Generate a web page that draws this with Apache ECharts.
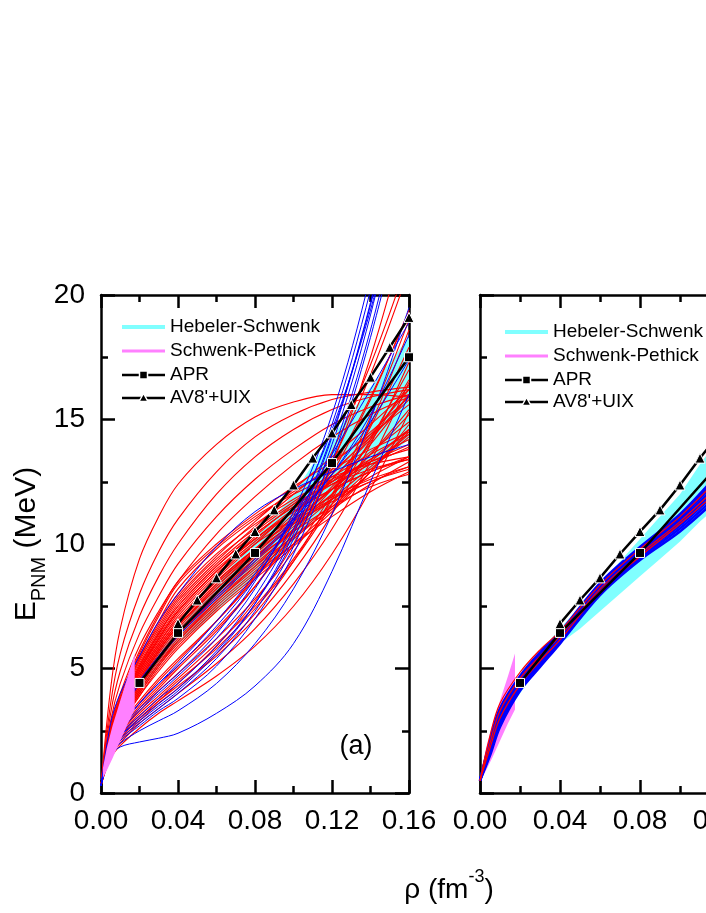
<!DOCTYPE html>
<html>
<head>
<meta charset="utf-8">
<script src="https://cdn.jsdelivr.net/npm/echarts@6/dist/echarts.min.js"></script>
<style>
    html, body { margin: 0; padding: 0; background: #fff; }
    #chart { width: 706px; height: 913px; }
</style>
</head>
<body>
<div id="chart"></div>
<script>
    // density grid shared by the model curves (fm^-3)
    var rhoGrid = [0, 0.005, 0.01, 0.02, 0.03, 0.04, 0.06, 0.08, 0.10, 0.12, 0.14, 0.16];
    var xRange = [0, 0.16], xStep = 0.04;
    var yRange = [0, 20], yStep = 5;

    // panel (a): red models, E_PNM at rhoGrid
    var leftRed = [
        [0.3, 4.2, 6.6, 9.4, 11.1, 12.4, 14.0, 15.1, 15.7, 16.0, 16.0, 15.9],
        [0.3, 3.6, 5.6, 8.0, 9.7, 11.0, 12.9, 14.3, 15.2, 15.8, 16.1, 16.3],
        [0.3, 3.2, 4.9, 7.1, 8.7, 10.0, 12.0, 13.5, 14.6, 15.4, 15.9, 16.2],
        [0.3, 2.9, 4.4, 6.4, 7.9, 9.2, 11.1, 12.6, 13.8, 14.8, 15.5, 16.0],
        [0.3, 2.7, 4.0, 5.9, 7.3, 8.5, 10.4, 11.9, 13.2, 14.3, 15.2, 15.9],
        [0.3, 2.6, 3.8, 5.6, 7.1, 8.4, 9.9, 11.1, 12.0, 12.7, 13.2, 13.5],
        [0.3, 2.5, 3.7, 5.4, 6.8, 8.0, 9.6, 10.8, 11.8, 12.6, 13.3, 13.8],
        [0.3, 2.5, 3.6, 5.3, 6.6, 7.8, 9.4, 10.6, 11.7, 12.7, 13.6, 14.4],
        [0.3, 2.4, 3.5, 5.1, 6.4, 7.5, 9.1, 10.4, 11.5, 12.5, 13.3, 14.0],
        [0.3, 2.4, 3.4, 5.0, 6.3, 7.4, 9.0, 10.2, 11.3, 12.2, 12.9, 13.4],
        [0.3, 2.3, 3.4, 4.9, 6.1, 7.2, 8.8, 10.1, 11.3, 12.5, 13.7, 14.9],
        [0.3, 2.3, 3.3, 4.8, 6.0, 7.1, 8.7, 10.0, 11.0, 11.9, 12.6, 13.1],
        [0.3, 2.2, 3.2, 4.7, 5.9, 6.9, 8.5, 9.8, 11.0, 12.2, 13.4, 14.6],
        [0.3, 2.2, 3.2, 4.6, 5.8, 6.8, 8.4, 9.7, 10.8, 11.7, 12.5, 13.0],
        [0.3, 2.1, 3.1, 4.5, 5.7, 6.7, 8.3, 9.6, 10.9, 12.2, 13.6, 15.2],
        [0.3, 2.1, 3.0, 4.4, 5.5, 6.5, 8.1, 9.4, 10.5, 11.5, 12.3, 12.8],
        [0.3, 2.0, 3.0, 4.3, 5.4, 6.4, 7.9, 9.2, 10.5, 11.8, 13.1, 14.4],
        [0.3, 2.0, 2.9, 4.2, 5.3, 6.3, 7.8, 9.1, 10.3, 11.4, 12.4, 13.3],
        [0.3, 1.9, 2.8, 4.1, 5.2, 6.1, 7.6, 8.9, 10.2, 11.5, 12.9, 14.5],
        [0.3, 1.9, 2.8, 4.0, 5.1, 6.0, 7.5, 8.8, 10.0, 11.1, 12.1, 12.9],
        [0.3, 1.8, 2.7, 3.9, 4.9, 5.8, 7.3, 8.6, 9.9, 11.3, 12.9, 14.8],
        [0.3, 2.6, 3.9, 5.7, 7.2, 8.5, 10.0, 11.2, 12.3, 13.3, 14.4, 15.6],
        [0.3, 2.5, 3.6, 5.2, 6.5, 7.7, 9.3, 10.7, 12.0, 13.2, 14.5, 15.9],
        [0.3, 2.3, 3.4, 5.0, 6.2, 7.3, 8.9, 10.3, 11.6, 12.9, 14.3, 15.8],
        [0.3, 2.2, 3.3, 4.8, 6.0, 7.0, 8.6, 10.0, 11.4, 12.8, 14.4, 16.2],
        [0.3, 2.1, 3.1, 4.6, 5.8, 6.8, 8.4, 9.8, 11.2, 12.6, 14.2, 16.0],
        [0.3, 2.0, 3.0, 4.4, 5.6, 6.6, 8.2, 9.5, 10.7, 11.8, 12.7, 13.5],
        [0.3, 1.9, 2.9, 4.2, 5.4, 6.4, 8.0, 9.4, 10.8, 12.3, 14.0, 16.0],
        [0.3, 1.8, 2.7, 4.0, 5.1, 6.1, 7.7, 9.1, 10.6, 12.2, 14.1, 16.6],
        [0.3, 2.4, 3.5, 5.1, 6.4, 7.6, 9.2, 10.5, 11.6, 12.4, 13.0, 13.4],
        [0.3, 2.2, 3.3, 4.9, 6.2, 7.3, 8.9, 10.2, 11.4, 12.4, 13.2, 13.9],
        [0.3, 2.0, 3.0, 4.5, 5.7, 6.7, 8.3, 9.7, 11.1, 12.6, 14.3, 16.4],
        [0.3, 2.6, 3.8, 5.5, 6.9, 8.2, 9.8, 11.0, 12.1, 13.0, 13.8, 14.5],
        [0.3, 2.5, 3.7, 5.4, 6.7, 7.9, 9.5, 10.9, 12.2, 13.5, 14.8, 16.2],
        [0.3, 2.3, 3.4, 4.9, 6.2, 7.3, 8.9, 10.2, 11.3, 12.2, 12.9, 13.5],
        [0.3, 2.1, 3.1, 4.5, 5.7, 6.7, 8.2, 9.5, 10.8, 12.0, 13.3, 14.6],
        [0.3, 1.9, 2.8, 4.1, 5.2, 6.2, 7.7, 9.0, 10.3, 11.6, 13.0, 14.3],
        [0.3, 2.4, 3.5, 5.1, 6.4, 7.5, 9.1, 10.4, 11.5, 12.5, 13.4, 14.2],
        [0.3, 2.2, 3.2, 4.7, 5.9, 6.9, 8.5, 9.8, 10.9, 11.8, 12.5, 13.1],
        [0.3, 2.0, 2.9, 4.3, 5.4, 6.3, 7.9, 9.3, 10.6, 12.0, 13.6, 15.4],
        [0.3, 1.8, 2.7, 3.9, 5.0, 5.9, 7.4, 8.7, 10.0, 11.4, 12.9, 14.6],
        [0.3, 1.6, 2.2, 3.0, 3.7, 4.3, 5.5, 7.0, 8.9, 11.2, 14.0, 17.3],
        [0.3, 1.5, 2.0, 2.8, 3.4, 4.0, 5.2, 6.6, 8.4, 10.6, 13.3, 16.5],
        [0.3, 1.7, 2.4, 3.3, 4.1, 4.8, 6.2, 7.8, 9.7, 12.0, 14.7, 17.9],
        [0.3, 1.4, 1.9, 2.6, 3.2, 3.7, 4.7, 5.9, 7.5, 9.6, 12.2, 15.3],
        [0.3, 1.6, 2.3, 3.2, 3.9, 4.6, 6.0, 7.5, 9.4, 11.8, 14.8, 18.6],
        [0.3, 1.8, 2.5, 3.5, 4.3, 5.1, 6.6, 8.3, 10.3, 12.8, 15.8, 19.4],
        [0.3, 1.5, 2.1, 2.9, 3.6, 4.2, 5.6, 7.2, 9.3, 11.9, 15.1, 19.0],
        [0.3, 1.7, 2.3, 3.1, 3.8, 4.5, 5.8, 7.4, 9.3, 11.6, 14.2, 17.0],
        [0.3, 1.9, 2.7, 3.7, 4.6, 5.4, 6.9, 8.6, 10.6, 13.0, 15.9, 19.3],
        [0.3, 1.8, 2.6, 3.6, 4.5, 5.3, 6.9, 8.7, 10.9, 13.7, 17.2, 21.5],
        [0.3, 1.7, 2.4, 3.4, 4.2, 5.0, 6.5, 8.3, 10.5, 13.3, 16.8, 21.0],
        [0.3, 1.6, 2.2, 3.0, 3.7, 4.4, 5.9, 7.7, 10.0, 13.2, 17.5, 23.0]
    ];

    // panel (a): blue models
    var leftBlue = [
        [0.3, 1.5, 1.85, 2.05, 2.2, 2.4, 3.2, 4.3, 6.0, 8.9, 12.5, 16.0],
        [0.3, 1.7, 2.2, 2.8, 3.4, 4.0, 5.4, 7.3, 9.9, 13.6, 18.6, 25.0],
        [0.3, 1.8, 2.3, 3.0, 3.6, 4.2, 5.7, 7.6, 10.2, 14.0, 19.2, 26.0],
        [0.3, 1.8, 2.4, 3.1, 3.8, 4.4, 5.9, 7.9, 10.6, 14.4, 19.7, 26.5],
        [0.3, 1.9, 2.5, 3.3, 4.0, 4.7, 6.2, 8.2, 10.9, 14.8, 20.2, 27.0],
        [0.3, 1.9, 2.6, 3.4, 4.1, 4.8, 6.4, 8.5, 11.3, 15.2, 20.8, 28.0],
        [0.3, 1.7, 2.3, 2.9, 3.5, 4.1, 5.6, 7.6, 10.4, 14.3, 19.6, 26.0],
        [0.3, 1.6, 2.1, 2.7, 3.3, 3.8, 5.1, 7.0, 9.6, 13.3, 18.3, 24.5],
        [0.3, 2.0, 2.7, 3.6, 4.4, 5.1, 6.7, 8.6, 11.1, 14.6, 19.4, 25.5],
        [0.3, 2.8, 4.0, 5.5, 6.9, 8.0, 9.9, 11.3, 12.2, 12.9, 13.5, 14.0],
        [0.3, 2.2, 3.2, 4.5, 5.5, 6.4, 7.9, 9.4, 11.0, 12.8, 14.9, 17.4],
        [0.3, 2.1, 3.1, 4.4, 5.4, 6.3, 7.8, 9.3, 10.9, 12.8, 15.2, 18.4],
        [0.3, 1.9, 2.6, 3.6, 4.4, 5.2, 6.9, 8.8, 11.0, 13.6, 16.2, 18.9],
        [0.3, 1.6, 2.0, 2.5, 2.9, 3.3, 4.4, 6.0, 8.2, 11.2, 15.0, 19.5]
    ];

    // panel (b): blue and red models
    var rightBlue = [
        [0.5, 1.5, 2.65, 4.1, 5.06, 6.0, 7.95, 9.36, 10.5, 11.9, 13.3, 14.7],
        [0.5, 1.6, 2.78, 4.2, 5.15, 6.07, 8.02, 9.45, 10.62, 12.05, 13.5, 14.95],
        [0.5, 1.7, 2.9, 4.3, 5.25, 6.13, 8.08, 9.53, 10.74, 12.2, 13.7, 15.2],
        [0.5, 1.8, 3.02, 4.38, 5.34, 6.2, 8.15, 9.6, 10.85, 12.35, 13.9, 15.45],
        [0.5, 1.88, 3.12, 4.46, 5.42, 6.27, 8.22, 9.67, 10.95, 12.5, 14.1, 15.7],
        [0.5, 1.96, 3.22, 4.54, 5.5, 6.33, 8.29, 9.74, 11.05, 12.65, 14.3, 15.95],
        [0.5, 2.03, 3.32, 4.62, 5.58, 6.4, 8.36, 9.81, 11.12, 12.78, 14.45, 16.2],
        [0.5, 2.1, 3.4, 4.7, 5.65, 6.46, 8.43, 9.88, 11.2, 12.9, 14.6, 16.4]
    ];
    var rightRed = [
        [0.5, 2.3, 3.6, 4.85, 5.75, 6.5, 8.35, 9.8, 11.1, 12.7, 14.4, 16.2],
        [0.5, 2.0, 3.3, 4.6, 5.5, 6.3, 8.2, 9.6, 10.9, 12.4, 14.0, 15.7],
        [0.5, 1.8, 3.0, 4.35, 5.3, 6.15, 8.1, 9.5, 10.8, 12.2, 13.7, 15.3]
    ];

    // Hebeler-Schwenk band
    var hsRho  = [0.005, 0.01, 0.02, 0.03, 0.04, 0.05, 0.06, 0.07, 0.08, 0.09, 0.10, 0.11, 0.12, 0.13, 0.14, 0.15, 0.16];
    var hsLow  = [1.9, 2.8, 4.0, 5.1, 6.0, 6.6, 7.3, 8.0, 8.7, 9.4, 10.1, 10.9, 11.6, 12.3, 13.0, 13.6, 14.2];
    var hsHigh = [2.2, 3.2, 4.6, 5.7, 6.6, 7.5, 8.4, 9.3, 10.2, 11.1, 12.0, 13.2, 14.3, 15.3, 16.3, 17.3, 18.3];

    // Schwenk-Pethick band
    var spRho  = [0.001, 0.003, 0.006, 0.01, 0.014, 0.0175];
    var spLow  = [0.6, 0.9, 1.4, 2.1, 2.8, 3.35];
    var spHigh = [1.0, 1.8, 2.7, 3.7, 4.7, 5.6];

    // APR and AV8'+UIX
    var aprRho = [0.02, 0.04, 0.08, 0.12, 0.16];
    var aprE   = [4.42, 6.43, 9.64, 13.25, 17.5];
    var avRho  = [0.04, 0.05, 0.06, 0.07, 0.08, 0.09, 0.10, 0.11, 0.12, 0.13, 0.14, 0.15, 0.16];
    var avE    = [6.8, 7.75, 8.64, 9.6, 10.5, 11.37, 12.37, 13.45, 14.46, 15.6, 16.7, 17.9, 19.1];

    var legendNames = ['Hebeler-Schwenk', 'Schwenk-Pethick', 'APR', "AV8'+UIX"];

    var FONT = 'Liberation Sans, Arial, Helvetica, sans-serif';
    var RED = '#ff0000', BLUE = '#0000ff', CYAN = '#80ffff', PINK = '#ff80ff';

    function pairs(xs, ys) {
        return xs.map(function (x, i) { return [x, ys[i]]; });
    }

    function xAx(grid, pos, labels) {
        return {
            type: 'value', gridIndex: grid, position: pos,
            min: xRange[0], max: xRange[1], interval: xStep,
            axisLine: { show: true, onZero: false, lineStyle: { color: '#000', width: 2.5 } },
            axisTick: { show: true, inside: true, length: 13, lineStyle: { color: '#000', width: 2.5 } },
            minorTick: { show: true, splitNumber: 2, length: 7, lineStyle: { color: '#000', width: 2.5 } },
            splitLine: { show: false },
            axisLabel: {
                show: labels, fontSize: 28, color: '#000', margin: 14, fontFamily: FONT,
                formatter: function (v) { return v.toFixed(2); }
            }
        };
    }

    function yAx(grid, pos, labels) {
        return {
            type: 'value', gridIndex: grid, position: pos,
            min: yRange[0], max: yRange[1], interval: yStep,
            axisLine: { show: true, onZero: false, lineStyle: { color: '#000', width: 2.5 } },
            axisTick: { show: true, inside: true, length: 14, lineStyle: { color: '#000', width: 2.5 } },
            minorTick: { show: true, splitNumber: 2, length: 7, lineStyle: { color: '#000', width: 2.5 } },
            splitLine: { show: false },
            axisLabel: { show: labels, fontSize: 28, color: '#000', margin: 16, fontFamily: FONT }
        };
    }

    function curve(vals, color, width, xi, yi, z) {
        return {
            type: 'line', xAxisIndex: xi, yAxisIndex: yi,
            data: pairs(rhoGrid, vals),
            smooth: 0.35, symbol: 'none',
            lineStyle: { color: color, width: width },
            silent: true, animation: false, z: z
        };
    }

    function band(name, xs, lo, hi, color, xi, yi, z) {
        return {
            type: 'custom', name: name, xAxisIndex: xi, yAxisIndex: yi,
            silent: true, animation: false, z: z,
            data: [[xs[0], lo[0]]],
            renderItem: function (params, api) {
                var pts = [];
                for (var i = 0; i < xs.length; i++) pts.push(api.coord([xs[i], hi[i]]));
                for (var j = xs.length - 1; j >= 0; j--) pts.push(api.coord([xs[j], lo[j]]));
                return { type: 'polygon', shape: { points: pts }, style: { fill: color } };
            }
        };
    }

    function refLine(name, xs, ys, sym, size, xi, yi) {
        return {
            type: 'line', name: name, xAxisIndex: xi, yAxisIndex: yi,
            data: pairs(xs, ys), symbol: sym, symbolSize: size, showSymbol: true,
            lineStyle: { color: '#000', width: 2.5 },
            itemStyle: { color: '#000', borderColor: '#fff', borderWidth: 1 },
            silent: true, animation: false, z: 6
        };
    }

    function legendBlock(x0, ys) {
        var els = [];
        var cx = x0 + 21.5;
        els.push({ type: 'rect', shape: { x: x0, y: ys[0] - 2, width: 43, height: 4 }, style: { fill: CYAN } });
        els.push({ type: 'rect', shape: { x: x0, y: ys[1] - 1.5, width: 43, height: 3 }, style: { fill: PINK } });
        els.push({ type: 'line', shape: { x1: x0, y1: ys[2], x2: x0 + 43, y2: ys[2] }, style: { stroke: '#000', lineWidth: 2.5 } });
        els.push({ type: 'rect', shape: { x: cx - 4, y: ys[2] - 4, width: 8, height: 8 }, style: { fill: '#000', stroke: '#fff', lineWidth: 1.5 } });
        els.push({ type: 'line', shape: { x1: x0, y1: ys[3], x2: x0 + 43, y2: ys[3] }, style: { stroke: '#000', lineWidth: 2.5 } });
        els.push({ type: 'polygon', shape: { points: [[cx - 4.5, ys[3] + 3.5], [cx, ys[3] - 4.5], [cx + 4.5, ys[3] + 3.5]] }, style: { fill: '#000', stroke: '#fff', lineWidth: 1.5 } });
        for (var i = 0; i < legendNames.length; i++) {
            els.push({
                type: 'text', x: x0 + 48, y: ys[i],
                style: { text: legendNames[i], fontSize: 19, fontFamily: FONT, fill: '#000', verticalAlign: 'middle', align: 'left' }
            });
        }
        return els;
    }

    var series = [];
    // panel (a)
    series.push(band('Hebeler-Schwenk', hsRho, hsLow, hsHigh, CYAN, 0, 0, 1));
    leftRed.forEach(function (c) { series.push(curve(c, RED, 1.1, 0, 0, 2)); });
    leftBlue.forEach(function (c) { series.push(curve(c, BLUE, 1, 0, 0, 3)); });
    series.push(band('Schwenk-Pethick', spRho, spLow, spHigh, PINK, 0, 0, 4));
    series.push(refLine('APR', aprRho, aprE, 'rect', 9, 0, 0));
    series.push(refLine("AV8'+UIX", avRho, avE, 'triangle', 10, 0, 0));
    // panel (b)
    series.push(band('Hebeler-Schwenk', hsRho, hsLow, hsHigh, CYAN, 2, 2, 1));
    series.push(band('Schwenk-Pethick', spRho, spLow, spHigh, PINK, 2, 2, 1));
    rightBlue.forEach(function (c) { series.push(curve(c, BLUE, 2.5, 2, 2, 3)); });
    rightRed.forEach(function (c) { series.push(curve(c, RED, 1.2, 2, 2, 4)); });
    series.push(refLine('APR', aprRho, aprE, 'rect', 9, 2, 2));
    series.push(refLine("AV8'+UIX", avRho, avE, 'triangle', 10, 2, 2));

    var yName = yAx(0, 'left', true);
    yName.name = '{a|E}{s|PNM}{a| (MeV)}';
    yName.nameLocation = 'middle';
    yName.nameGap = 44;
    yName.nameTextStyle = {
        color: '#000', fontFamily: FONT,
        rich: {
            a: { fontSize: 30, fontFamily: FONT, color: '#000', lineHeight: 38, verticalAlign: 'top' },
            s: { fontSize: 20, fontFamily: FONT, color: '#000', lineHeight: 16, verticalAlign: 'bottom' }
        }
    };

    var option = {
        animation: false,
        backgroundColor: '#fff',
        grid: [
            { left: 101, top: 295, width: 308, height: 498, outerBoundsMode: 'none' },
            { left: 480, top: 295, width: 320, height: 498, outerBoundsMode: 'none' }
        ],
        xAxis: [xAx(0, 'bottom', true), xAx(0, 'top', false), xAx(1, 'bottom', true), xAx(1, 'top', false)],
        yAxis: [yName, yAx(0, 'right', false), yAx(1, 'left', false), yAx(1, 'right', false)],
        series: series,
        graphic: legendBlock(122, [327, 351, 375, 398])
            .concat(legendBlock(505, [332, 356, 380, 402]))
            .concat([
                {
                    type: 'text', x: 356, y: 747,
                    style: { text: '(a)', fontSize: 27, fontFamily: FONT, fill: '#000', align: 'center', verticalAlign: 'middle' }
                },
                {
                    type: 'text', x: 449, y: 886,
                    style: {
                        text: '{a|ρ (fm}{p|-3}{a|)}', align: 'center', verticalAlign: 'middle',
                        rich: {
                            a: { fontSize: 28, fontFamily: FONT, fill: '#000', lineHeight: 36, verticalAlign: 'bottom' },
                            p: { fontSize: 18, fontFamily: FONT, fill: '#000', lineHeight: 18, verticalAlign: 'top' }
                        }
                    }
                }
            ])
    };

    var myChart = echarts.init(document.getElementById('chart'));
    myChart.setOption(option);
</script>
</body>
</html>
